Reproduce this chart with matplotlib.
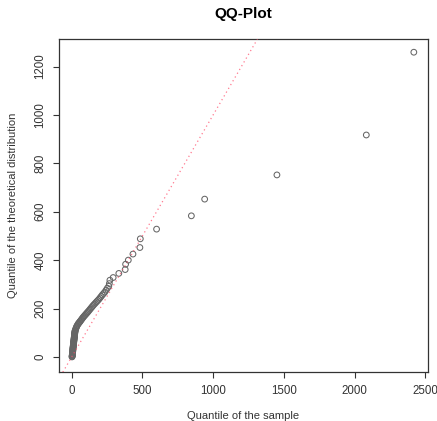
import numpy as np
import matplotlib.pyplot as plt

plt.rcParams['font.family'] = ['Liberation Sans', 'DejaVu Sans']

# sample quantiles (x) and theoretical quantiles (y)
sample_q = [2, 3, 3, 4, 4, 5, 5, 5, 6, 6, 7, 7, 8, 8, 8, 9, 9, 10, 10, 11,
            11, 12, 12, 13, 13, 14, 14, 15, 15, 16, 16, 17, 17, 18, 18, 19, 19, 20, 20, 21,
            21, 22, 22, 23, 24,
            25, 28, 31, 34, 37, 41, 45, 49, 53, 57, 61, 66, 71, 76, 81, 87, 93, 99, 105, 111,
            117, 124, 131, 138, 145,
            152, 160, 168, 176, 184, 192, 200, 208, 216, 225, 234, 243, 252, 262,
            266, 270, 293, 333, 378, 381, 400, 433, 482, 485, 600, 846, 940, 1451, 2083, 2419]
theor_q = [0, 2, 4, 6, 8, 10, 12, 15, 17, 20, 22, 25, 27, 30, 32, 35, 37, 40, 42, 45,
           47, 50, 52, 55, 57, 60, 62, 65, 67, 70, 72, 75, 77, 80, 82, 85, 87, 90, 92, 95,
           97, 100, 102, 105, 108,
           110, 115, 120, 124, 128, 132, 136, 139, 142, 145, 148, 152, 156, 160, 164, 168, 172, 176, 180, 184,
           188, 193, 198, 203, 208,
           213, 218, 223, 228, 233, 238, 244, 250, 256, 262, 268, 276, 284, 292,
           303, 317, 328, 345, 361, 383, 400, 425, 452, 488, 528, 583, 652, 752, 917, 1259]

x_ticks = [0, 500, 1000, 1500, 2000, 2500]
y_ticks = [0, 200, 400, 600, 800, 1000, 1200]

fig = plt.figure(figsize=(4.37, 4.21), dpi=100)
ax = fig.add_axes([0.135, 0.116, 0.844, 0.791])

ax.scatter(sample_q, theor_q, s=17, facecolors='none', edgecolors='#666666',
           linewidths=0.75, zorder=2)
ax.axline((0, 0), slope=1, color='#ff4d6a', linestyle=(0, (1, 2.5)), linewidth=0.9,
          alpha=0.75, zorder=3)

ax.set_xlim(-90, 2518)
ax.set_ylim(-63, 1313)
ax.set_xticks(x_ticks)
ax.set_yticks(y_ticks)
ax.tick_params(axis='both', direction='out', length=4, width=0.8, labelsize=8.3,
               colors='#333333', pad=5)
for lab in ax.get_yticklabels():
    lab.set_rotation(90)
    lab.set_va('center')
for sp in ax.spines.values():
    sp.set_color('#333333')
    sp.set_linewidth(0.9)

ax.set_xlabel('Quantile of the sample', fontsize=8, labelpad=10, color='#333333')
ax.set_ylabel('Quantile of the theoretical distribution', fontsize=8, labelpad=12,
              color='#333333')
ax.set_title('QQ-Plot', fontsize=11, fontweight='bold', pad=15)

fig.savefig('out.png', dpi=100)
